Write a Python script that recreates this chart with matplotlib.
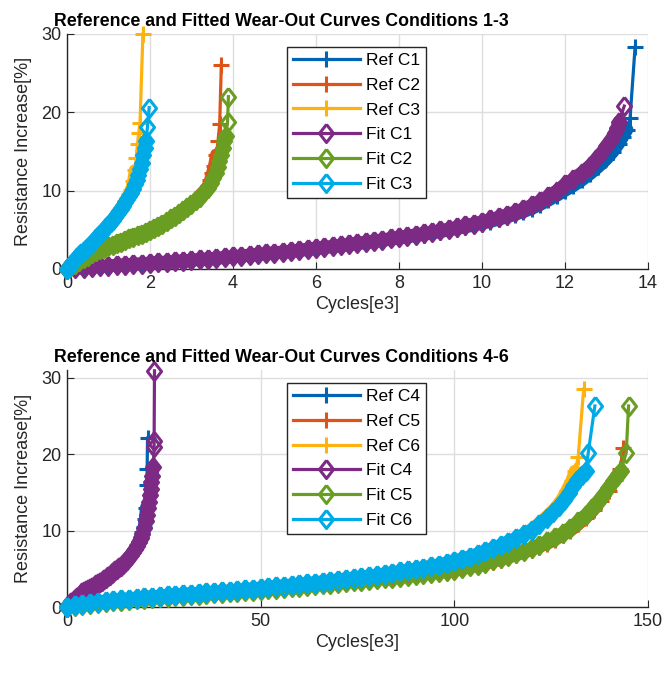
import numpy as np
import matplotlib
matplotlib.use("Agg")
import matplotlib.pyplot as plt

plt.rcParams['font.family'] = ['Liberation Sans', 'DejaVu Sans']

# ---- conditions 1-3 (cycles in e3, resistance increase in %) ----
fit_c1_x = [0, 0.2, 0.4, 0.6, 0.8, 1.0, 1.2, 1.4, 1.6, 1.8, 2.0, 2.2, 2.4, 2.6, 2.8, 3.0,
            3.2, 3.4, 3.6, 3.8, 4.0, 4.2, 4.4, 4.6, 4.8, 5.0, 5.2, 5.4, 5.6, 5.8, 6.0, 6.2,
            6.4, 6.6, 6.8, 7.0, 7.2, 7.4, 7.6, 7.8, 8.0, 8.2, 8.4, 8.6, 8.8, 9.0, 9.2, 9.4,
            9.6, 9.8, 10.0, 10.2, 10.4, 10.6, 10.8, 11.0, 11.2, 11.4, 11.6, 11.8, 12.0,
            12.2, 12.4, 12.6, 12.75, 12.9, 13.0, 13.1, 13.2, 13.25, 13.3, 13.43]
fit_c1_y = [0, 0.07, 0.15, 0.25, 0.35, 0.42, 0.5, 0.57, 0.63, 0.7, 0.77, 0.84, 0.92, 1.0,
            1.08, 1.16, 1.24, 1.32, 1.4, 1.5, 1.6, 1.7, 1.8, 1.9, 2.0, 2.1, 2.2, 2.32, 2.44,
            2.56, 2.68, 2.8, 2.92, 3.05, 3.18, 3.32, 3.46, 3.6, 3.75, 3.9, 4.06, 4.22, 4.39,
            4.56, 4.74, 4.93, 5.13, 5.34, 5.56, 5.8, 6.05, 6.32, 6.62, 6.95, 7.3, 7.7, 8.15,
            8.7, 9.3, 10.0, 10.8, 11.5, 12.3, 13.2, 14.0, 14.9, 15.7, 16.5, 17.4, 18.0,
            18.8, 20.8]
ref_c1_x = [0, 0.2, 0.4, 0.6, 0.8, 1.0, 1.2, 1.4, 1.6, 1.8, 2.0, 2.2, 2.4, 2.6, 2.8, 3.0,
            3.2, 3.4, 3.6, 3.8, 4.0, 4.2, 4.4, 4.6, 4.8, 5.0, 5.2, 5.4, 5.6, 5.8, 6.0, 6.2,
            6.4, 6.6, 6.8, 7.0, 7.2, 7.4, 7.6, 7.8, 8.0, 8.2, 8.4, 8.6, 8.8, 9.0, 9.2, 9.4,
            9.6, 9.8, 10.0, 10.2, 10.4, 10.6, 10.8, 11.0, 11.2, 11.4, 11.6, 11.8, 12.0,
            12.2, 12.4, 12.6, 12.8, 13.0, 13.15, 13.3, 13.4, 13.5, 13.57, 13.69]
ref_c1_y = [0, 0.05, 0.12, 0.2, 0.3, 0.38, 0.45, 0.52, 0.58, 0.65, 0.72, 0.8, 0.88, 0.95,
            1.03, 1.1, 1.18, 1.26, 1.34, 1.43, 1.52, 1.62, 1.72, 1.82, 1.92, 2.02, 2.12, 2.23,
            2.34, 2.46, 2.58, 2.7, 2.82, 2.94, 3.06, 3.2, 3.34, 3.48, 3.62, 3.77, 3.92, 4.07,
            4.23, 4.4, 4.57, 4.75, 4.95, 5.15, 5.35, 5.57, 5.8, 6.05, 6.32, 6.62, 6.95, 7.3,
            7.7, 8.2, 8.75, 9.35, 10.0, 10.6, 11.3, 12.1, 13.0, 14.0, 14.9, 16.0, 16.9,
            17.8, 19.3, 28.3]
fit_c2_x = [0, 0.1, 0.2, 0.3, 0.4, 0.5, 0.6, 0.7, 0.8, 0.9, 1.0, 1.1, 1.2, 1.3, 1.4, 1.5,
            1.6, 1.7, 1.8, 1.9, 2.0, 2.1, 2.2, 2.3, 2.4, 2.5, 2.6, 2.7, 2.8, 2.9, 3.0, 3.1,
            3.2, 3.3, 3.4, 3.47, 3.53, 3.58, 3.63, 3.67, 3.71, 3.75, 3.79, 3.83, 3.87, 3.89]
fit_c2_y = [0, 0.35, 0.7, 1.05, 1.4, 1.7, 2.0, 2.25, 2.5, 2.7, 2.9, 3.1, 3.3, 3.5, 3.7, 3.9,
            4.1, 4.3, 4.5, 4.75, 5.0, 5.25, 5.5, 5.8, 6.1, 6.45, 6.8, 7.15, 7.5, 7.9, 8.3,
            8.75, 9.25, 9.8, 10.4, 11.0, 11.6, 12.3, 13.0, 13.8, 14.6, 15.5, 16.3, 17.0,
            18.8, 22.0]
ref_c2_x = [0, 0.1, 0.2, 0.3, 0.4, 0.5, 0.6, 0.7, 0.8, 0.9, 1.0, 1.1, 1.2, 1.3, 1.4, 1.5,
            1.6, 1.7, 1.8, 1.9, 2.0, 2.1, 2.2, 2.3, 2.4, 2.5, 2.6, 2.7, 2.8, 2.9, 3.0, 3.1,
            3.2, 3.3, 3.4, 3.45, 3.5, 3.55, 3.6, 3.64, 3.68, 3.72]
ref_c2_y = [0, 0.35, 0.7, 1.05, 1.4, 1.7, 2.0, 2.25, 2.5, 2.7, 2.9, 3.1, 3.3, 3.5, 3.7, 3.9,
            4.1, 4.3, 4.5, 4.75, 5.0, 5.25, 5.5, 5.8, 6.1, 6.45, 6.8, 7.15, 7.5, 7.9, 8.35,
            8.8, 9.35, 9.95, 10.6, 11.3, 12.2, 13.2, 14.6, 16.3, 18.5, 26.1]
fit_c3_x = [0, 0.05, 0.1, 0.15, 0.2, 0.25, 0.3, 0.35, 0.4, 0.45, 0.5, 0.55, 0.6, 0.65, 0.7,
            0.75, 0.8, 0.85, 0.9, 0.95, 1.0, 1.05, 1.1, 1.15, 1.2, 1.25, 1.3, 1.35, 1.4, 1.45,
            1.5, 1.55, 1.6, 1.64, 1.68, 1.72, 1.76, 1.8, 1.84, 1.87, 1.9, 1.94, 1.98]
fit_c3_y = [0, 0.3, 0.6, 0.9, 1.2, 1.5, 1.8, 2.05, 2.3, 2.55, 2.8, 3.05, 3.3, 3.6, 3.9, 4.2,
            4.5, 4.75, 5.0, 5.3, 5.6, 5.95, 6.3, 6.65, 7.0, 7.35, 7.7, 8.1, 8.5, 8.9, 9.3,
            9.75, 10.2, 10.8, 11.4, 12.0, 12.7, 13.5, 14.6, 15.5, 16.4, 18.1, 20.6]
ref_c3_x = [0, 0.05, 0.1, 0.15, 0.2, 0.25, 0.3, 0.35, 0.4, 0.45, 0.5, 0.55, 0.6, 0.65, 0.7,
            0.75, 0.8, 0.85, 0.9, 0.95, 1.0, 1.05, 1.1, 1.15, 1.2, 1.25, 1.3, 1.35, 1.4, 1.45,
            1.5, 1.55, 1.6, 1.64, 1.67, 1.7, 1.73, 1.76, 1.83]
ref_c3_y = [0, 0.3, 0.6, 0.9, 1.2, 1.5, 1.8, 2.05, 2.3, 2.55, 2.8, 3.05, 3.3, 3.6, 3.9, 4.2,
            4.5, 4.75, 5.0, 5.3, 5.6, 5.95, 6.3, 6.65, 7.0, 7.4, 7.8, 8.2, 8.65, 9.1, 9.55,
            10.1, 11.2, 12.6, 14.2, 16.0, 17.4, 18.6, 30.0]

# ---- conditions 4-6 ----
fit_c4_x = [0, 0.5, 1, 1.5, 2, 2.5, 3, 3.5, 4, 4.5, 5, 5.5, 6, 6.5, 7, 7.5, 8, 8.5, 9, 9.5,
            10, 10.5, 11, 11.5, 12, 12.5, 13, 13.5, 14, 14.5, 15, 15.5, 16, 16.5, 17, 17.5,
            18, 18.5, 19, 19.5, 19.9, 20.3, 20.6, 20.9, 21.2, 21.4, 21.6, 21.8, 22.0, 22.3,
            22.5, 22.5, 22.6]
fit_c4_y = [0, 0.35, 0.6, 0.85, 1.1, 1.3, 1.5, 1.7, 1.9, 2.05, 2.2, 2.35, 2.5, 2.65, 2.8,
            2.95, 3.1, 3.25, 3.4, 3.6, 3.8, 4.0, 4.2, 4.4, 4.6, 4.8, 5.0, 5.2, 5.4, 5.65, 5.9,
            6.2, 6.5, 6.85, 7.2, 7.6, 8.0, 8.5, 9.0, 9.6, 10.3, 11.2, 12.0, 12.9, 13.8, 14.6,
            15.5, 16.3, 17.2, 18.3, 20.9, 21.7, 30.9]
ref_c4_x = [0, 0.5, 1, 1.5, 2, 2.5, 3, 3.5, 4, 4.5, 5, 5.5, 6, 6.5, 7, 7.5, 8, 8.5, 9, 9.5,
            10, 10.5, 11, 11.5, 12, 12.5, 13, 13.5, 14, 14.5, 15, 15.5, 16, 16.5, 17, 17.5,
            18, 18.5, 19, 19.5, 19.9, 20.2, 20.45, 20.6, 20.7, 20.8]
ref_c4_y = [0, 0.35, 0.6, 0.85, 1.1, 1.3, 1.5, 1.7, 1.9, 2.05, 2.2, 2.35, 2.5, 2.65, 2.8,
            2.95, 3.1, 3.25, 3.4, 3.6, 3.8, 4.0, 4.2, 4.4, 4.6, 4.8, 5.0, 5.2, 5.4, 5.65, 5.9,
            6.2, 6.5, 6.85, 7.2, 7.6, 8.05, 8.55, 9.1, 9.75, 10.5, 11.5, 13.0, 16.0, 18.0,
            22.1]
fit_c5_x = [0, 2, 4, 6, 8, 10, 12, 14, 16, 18, 20, 22, 24, 26, 28, 30, 32, 34, 36, 38, 40,
            42, 44, 46, 48, 50, 52, 54, 56, 58, 60, 62, 64, 66, 68, 70, 72, 74, 76, 78, 80,
            82, 84, 86, 88, 90, 92, 94, 96, 98, 100, 102, 104, 106, 108, 110, 112, 114, 116,
            118, 120, 122, 124, 126, 128, 130, 132, 134, 135.5, 137, 138.5, 139.8, 141, 142,
            143, 144.4, 145]
fit_c5_y = [0, 0.15, 0.3, 0.42, 0.55, 0.65, 0.75, 0.85, 0.95, 1.02, 1.1, 1.17, 1.25, 1.32,
            1.4, 1.47, 1.55, 1.62, 1.7, 1.77, 1.85, 1.92, 2.0, 2.07, 2.15, 2.22, 2.3, 2.4,
            2.5, 2.57, 2.65, 2.75, 2.85, 2.95, 3.05, 3.15, 3.25, 3.35, 3.45, 3.55, 3.65, 3.75,
            3.85, 3.97, 4.1, 4.22, 4.35, 4.47, 4.6, 4.75, 4.9, 5.1, 5.3, 5.55, 5.8, 6.1, 6.4,
            6.7, 7.0, 7.35, 7.7, 8.1, 8.6, 9.1, 9.7, 10.4, 11.2, 12.1, 12.9, 13.8, 14.7, 15.6,
            16.5, 17.2, 17.8, 20.2, 26.3]
ref_c5_x = [0, 2, 4, 6, 8, 10, 12, 14, 16, 18, 20, 22, 24, 26, 28, 30, 32, 34, 36, 38, 40,
            42, 44, 46, 48, 50, 52, 54, 56, 58, 60, 62, 64, 66, 68, 70, 72, 74, 76, 78, 80,
            82, 84, 86, 88, 90, 92, 94, 96, 98, 100, 102, 104, 106, 108, 110, 112, 114, 116,
            118, 120, 122, 124, 126, 128, 130, 132, 134, 136, 138, 140, 141.5, 142.8, 143.6]
ref_c5_y = [0, 0.15, 0.3, 0.42, 0.55, 0.65, 0.75, 0.85, 0.95, 1.02, 1.1, 1.17, 1.25, 1.32,
            1.4, 1.47, 1.55, 1.62, 1.7, 1.77, 1.85, 1.92, 2.0, 2.07, 2.15, 2.22, 2.3, 2.4,
            2.5, 2.57, 2.65, 2.75, 2.85, 2.95, 3.05, 3.15, 3.25, 3.35, 3.45, 3.55, 3.65, 3.75,
            3.85, 3.95, 4.05, 4.17, 4.3, 4.42, 4.55, 4.68, 4.82, 5.0, 5.2, 5.42, 5.66, 5.92,
            6.2, 6.5, 6.8, 7.15, 7.5, 7.9, 8.3, 8.8, 9.4, 10.0, 10.8, 11.7, 12.7, 13.9, 15.2,
            16.6, 18.0, 20.8]
fit_c6_x = [0, 2, 4, 6, 8, 10, 12, 14, 16, 18, 20, 22, 24, 26, 28, 30, 32, 34, 36, 38, 40,
            42, 44, 46, 48, 50, 52, 54, 56, 58, 60, 62, 64, 66, 68, 70, 72, 74, 76, 78, 80,
            82, 84, 86, 88, 90, 92, 94, 96, 98, 100, 102, 104, 106, 108, 110, 112, 114, 116,
            118, 120, 122, 124, 125.5, 127, 128.3, 129.5, 130.7, 131.8, 133, 134, 134.6,
            136.3]
fit_c6_y = [0, 0.2, 0.4, 0.55, 0.7, 0.8, 0.9, 1.0, 1.1, 1.2, 1.3, 1.37, 1.45, 1.52, 1.6,
            1.67, 1.75, 1.82, 1.9, 1.97, 2.05, 2.12, 2.2, 2.3, 2.4, 2.5, 2.6, 2.7, 2.8, 2.9,
            3.0, 3.1, 3.2, 3.32, 3.45, 3.57, 3.7, 3.82, 3.95, 4.07, 4.2, 4.35, 4.5, 4.65, 4.8,
            4.97, 5.15, 5.35, 5.55, 5.77, 6.0, 6.3, 6.6, 6.95, 7.3, 7.7, 8.1, 8.55, 9.0, 9.5,
            10.1, 10.9, 11.7, 12.4, 13.2, 14.0, 14.9, 15.8, 16.6, 17.3, 17.8, 20.2, 26.3]
ref_c6_x = [0, 2, 4, 6, 8, 10, 12, 14, 16, 18, 20, 22, 24, 26, 28, 30, 32, 34, 36, 38, 40,
            42, 44, 46, 48, 50, 52, 54, 56, 58, 60, 62, 64, 66, 68, 70, 72, 74, 76, 78, 80,
            82, 84, 86, 88, 90, 92, 94, 96, 98, 100, 102, 104, 106, 108, 110, 112, 114, 116,
            118, 120, 122, 124, 126, 127.7, 129, 130.3, 131.2, 132, 133.4]
ref_c6_y = [0, 0.2, 0.4, 0.55, 0.7, 0.8, 0.9, 1.0, 1.1, 1.2, 1.3, 1.37, 1.45, 1.52, 1.6,
            1.67, 1.75, 1.82, 1.9, 1.97, 2.05, 2.12, 2.2, 2.3, 2.4, 2.5, 2.6, 2.7, 2.8, 2.9,
            3.0, 3.1, 3.2, 3.32, 3.45, 3.57, 3.7, 3.82, 3.95, 4.07, 4.2, 4.35, 4.5, 4.65, 4.8,
            4.97, 5.15, 5.35, 5.55, 5.77, 6.0, 6.3, 6.6, 6.95, 7.3, 7.7, 8.1, 8.55, 9.0, 9.5,
            10.2, 11.0, 11.9, 12.9, 14.0, 15.2, 16.5, 17.8, 19.6, 28.5]

ref_labels_top = ['Ref C1', 'Ref C2', 'Ref C3']
fit_labels_top = ['Fit C1', 'Fit C2', 'Fit C3']
ref_labels_bot = ['Ref C4', 'Ref C5', 'Ref C6']
fit_labels_bot = ['Fit C4', 'Fit C5', 'Fit C6']

# matlab-ish default colour order (a bit more saturated, like the screenshot)
ref_colors = ['#0063B4', '#DE5316', '#FDB20F']
fit_colors = ['#7D2A85', '#6A9E22', '#00AAE6']

# matlab style diamond (wider than matplotlib's 'd')
diamond = [(0, 1), (0.78, 0), (0, -1), (-0.78, 0), (0, 1)]


def dense_part(ax, x, y, thr=12):
    # the real data has so many points that the markers merge into a band;
    # find where the points are still packed close together (in pixels)
    p = ax.transData.transform(np.column_stack([x, y]))
    d = np.hypot(*np.diff(p, axis=0).T)
    gap = np.nonzero(d > thr)[0]
    n = gap[0] + 1 if len(gap) else len(x)
    return x[:n], y[:n]


def draw(ax, refs, fits, ref_labels, fit_labels, xlim, ylim, xticks, title):
    ax.set_xlim(xlim)
    ax.set_ylim(ylim)
    z = 3
    for (x, y), lab, c in zip(refs, ref_labels, ref_colors):
        bx, by = dense_part(ax, x, y)
        ax.plot(bx, by, '-', color=c, lw=9, solid_joinstyle='round',
                solid_capstyle='round', clip_on=False, zorder=z)
        ax.plot(x, y, '-', color=c, lw=2.3, marker='+', ms=12, mew=2.2,
                label=lab, clip_on=False, zorder=z + 0.5)
        z += 1
    for (x, y), lab, c in zip(fits, fit_labels, fit_colors):
        bx, by = dense_part(ax, x, y)
        ax.plot(bx, by, '-', color=c, lw=9, solid_joinstyle='round',
                solid_capstyle='round', clip_on=False, zorder=z)
        ax.plot(x, y, '-', color=c, lw=2.3, marker=diamond, ms=13, mew=2.2,
                mfc='none', label=lab, clip_on=False, zorder=z + 0.5)
        z += 1
    ax.set_xticks(xticks)
    ax.set_yticks([0, 10, 20, 30])
    ax.grid(True, color='#DEDEDE', lw=1)
    ax.set_axisbelow(True)
    for s in ['top', 'right']:
        ax.spines[s].set_visible(False)
    for s in ['left', 'bottom']:
        ax.spines[s].set_linewidth(1.0)
        ax.spines[s].set_color('#262626')
    ax.tick_params(direction='in', length=5, labelsize=13, colors='#262626',
                   labelcolor='#262626', pad=4)
    ax.set_xlabel('Cycles[e3]', fontsize=13, color='#262626', labelpad=3)
    ax.set_ylabel('Resistance Increase[%]', fontsize=13, color='#262626', labelpad=7)
    ax.set_title(title, fontsize=12.8, fontweight='bold', pad=6, x=0.369)
    leg = ax.legend(loc='upper left', bbox_to_anchor=(0.378, 0.945), fontsize=12.5,
                    handlelength=3.9, handletextpad=0.3, labelspacing=0.55,
                    borderpad=0.35, borderaxespad=0, fancybox=False, framealpha=1)
    leg.set_zorder(20)
    leg.get_frame().set_edgecolor('#262626')
    leg.get_frame().set_linewidth(1.0)


fig = plt.figure(figsize=(6.67, 6.74), dpi=100)
ax1 = fig.add_axes([0.1004, 0.6009, 0.871, 0.3487])
ax2 = fig.add_axes([0.1004, 0.0994, 0.871, 0.3516])

draw(ax1,
     [(ref_c1_x, ref_c1_y), (ref_c2_x, ref_c2_y), (ref_c3_x, ref_c3_y)],
     [(fit_c1_x, fit_c1_y), (fit_c2_x, fit_c2_y), (fit_c3_x, fit_c3_y)],
     ref_labels_top, fit_labels_top, (0, 14), (0, 30), np.arange(0, 15, 2),
     'Reference and Fitted Wear-Out Curves Conditions 1-3')
draw(ax2,
     [(ref_c4_x, ref_c4_y), (ref_c5_x, ref_c5_y), (ref_c6_x, ref_c6_y)],
     [(fit_c4_x, fit_c4_y), (fit_c5_x, fit_c5_y), (fit_c6_x, fit_c6_y)],
     ref_labels_bot, fit_labels_bot, (0, 150), (0, 31), [0, 50, 100, 150],
     'Reference and Fitted Wear-Out Curves Conditions 4-6')

fig.savefig('out.png', dpi=100)
